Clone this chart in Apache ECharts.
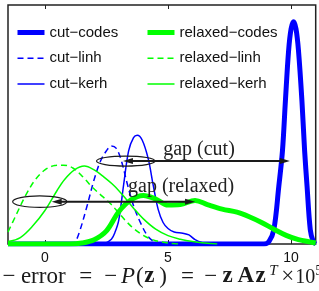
<!DOCTYPE html>
<html>
<head>
<meta charset="utf-8">
<script src="https://cdn.jsdelivr.net/npm/echarts@6/dist/echarts.min.js"></script>
<style>
html, body { margin: 0; padding: 0; background: #fff; }
#chart { width: 319px; height: 291px; }
</style>
</head>
<body>
<div id="chart"></div>
<script>
// densities (y scaled so the top of the box is 1)
const cutCodesX = [-1.5, 8.9, 9.1, 9.3, 9.5, 9.65, 9.77, 9.9, 10.0, 10.1, 10.2, 10.3, 10.44, 10.55, 10.65, 10.78, 10.9, 11]
const cutCodesY = [0, 0, 0.01, 0.06, 0.24, 0.39, 0.6, 0.81, 0.9, 0.93, 0.9, 0.81, 0.6, 0.39, 0.24, 0.06, 0.01, 0]

const cutLinhX = [1.0, 1.2, 1.4, 1.7, 2.0, 2.25, 2.5, 2.7, 2.9, 3.1, 3.35, 3.6, 3.9, 4.2, 4.5, 4.8]
const cutLinhY = [0, 0.005, 0.05, 0.155, 0.27, 0.345, 0.39, 0.41, 0.4, 0.35, 0.25, 0.16, 0.085, 0.03, 0.006, 0]

const cutKerhX = [2.4, 2.7, 2.85, 3.0, 3.2, 3.4, 3.6, 3.75, 3.95, 4.2, 4.4, 4.6, 4.8, 5.0, 5.25, 5.6, 5.85, 6.1, 6.4, 6.7]
const cutKerhY = [0, 0.02, 0.05, 0.1, 0.25, 0.39, 0.445, 0.455, 0.435, 0.355, 0.245, 0.145, 0.09, 0.065, 0.05, 0.045, 0.038, 0.018, 0.005, 0]

const relaxedCodesX = [-1.5, 1.0, 1.5, 2.0, 2.5, 3.0, 3.5, 4.0, 4.5, 5.0, 5.5, 6.1, 6.6, 7.2, 7.8, 8.3, 8.8, 9.3, 9.8, 10.3, 10.8, 11]
const relaxedCodesY = [0, 0, 0.004, 0.018, 0.055, 0.135, 0.185, 0.203, 0.188, 0.163, 0.165, 0.182, 0.165, 0.146, 0.133, 0.114, 0.09, 0.062, 0.036, 0.018, 0.008, 0.004]

const relaxedLinhX = [-1.5, -1.2, -0.8, -0.4, 0, 0.4, 0.75, 1.15, 1.55, 1.95, 2.35, 2.7, 3.0, 3.3, 3.6, 3.9, 4.2, 4.5, 5.0, 5.5]
const relaxedLinhY = [0.05, 0.115, 0.2, 0.268, 0.31, 0.328, 0.33, 0.317, 0.28, 0.235, 0.198, 0.165, 0.13, 0.095, 0.065, 0.042, 0.025, 0.014, 0.004, 0]

const relaxedKerhX = [-1.5, -1.0, -0.5, 0, 0.5, 0.8, 1.2, 1.6, 2.0, 2.4, 2.8, 3.2, 3.6, 4.0, 4.5, 5.0, 5.5, 6.0, 6.5, 7.0]
const relaxedKerhY = [0.01, 0.027, 0.075, 0.14, 0.225, 0.27, 0.31, 0.326, 0.31, 0.28, 0.245, 0.2, 0.15, 0.105, 0.062, 0.035, 0.02, 0.01, 0.004, 0]

const xTicks = [0, 5, 10]

// gap arrows, the rings at their left ends and their labels
const gapLabels = ['gap (cut)', 'gap (relaxed)']
const gapFrom = [3.17, 0.275]
const gapTo = [9.95, 6.1]
const gapY = [0.347, 0.177]
const ringX = [3.285, -0.21]
const ringY = [0.347, 0.177]
const ringW = [1.19, 1.1]
const ringH = [0.021, 0.024]
const labelX = [6.26, 5.53]
const labelY = [0.395, 0.238]

const BLUE = '#0000ff'
const GREEN = '#00ff00'
const INK = '#1a1a1a'

function pairs (xs, ys) {
  return xs.map((x, i) => [x, ys[i]])
}

function curve (name, xs, ys, color, width, dashed) {
  return {
    name,
    type: 'line',
    data: pairs(xs, ys),
    symbol: 'none',
    smooth: 0.35,
    lineStyle: { color, width, type: dashed ? [6, 4] : 'solid' },
    itemStyle: { color },
    emphasis: { disabled: true },
    animation: false
  }
}

function renderGap (params, api) {
  const i = params.dataIndex
  const a = api.coord([api.value(0), api.value(2)])
  const b = api.coord([api.value(1), api.value(2)])
  const c = api.coord([api.value(3), api.value(4)])
  const r = api.size([api.value(5), api.value(6)])
  const t = api.coord([api.value(7), api.value(8)])
  const head = 10
  const half = 3
  return {
    type: 'group',
    children: [
      { type: 'ellipse', shape: { cx: c[0], cy: c[1], rx: r[0], ry: r[1] }, style: { fill: 'none', stroke: INK, lineWidth: 1.2 } },
      { type: 'line', shape: { x1: a[0] + head - 1, y1: a[1], x2: b[0] - head + 1, y2: b[1] }, style: { stroke: INK, lineWidth: 2 } },
      { type: 'polygon', shape: { points: [[a[0], a[1]], [a[0] + head, a[1] - half], [a[0] + head, a[1] + half]] }, style: { fill: INK } },
      { type: 'polygon', shape: { points: [[b[0], b[1]], [b[0] - head, b[1] - half], [b[0] - head, b[1] + half]] }, style: { fill: INK } },
      { type: 'text', x: t[0], y: t[1], style: { text: gapLabels[i], font: '20px "Liberation Serif"', fill: '#222', align: 'center', verticalAlign: 'middle' } }
    ]
  }
}

const gapData = gapLabels.map((_, i) => [gapFrom[i], gapTo[i], gapY[i], ringX[i], ringY[i], ringW[i], ringH[i], labelX[i], labelY[i]])

// x-axis title: tokens are left aligned, width = distance to the next glyph
const serif = 'Liberation Serif'
function tok (width, extra) {
  return Object.assign({ fontFamily: serif, fontSize: 23, lineHeight: 24, verticalAlign: 'bottom', align: 'left', width, color: INK }, extra || {})
}
function sup (width, extra) {
  return Object.assign({ fontFamily: serif, fontSize: 15, lineHeight: 16, verticalAlign: 'top', align: 'left', width, color: INK }, extra || {})
}
const rich = {
  m0: tok(18.4),
  er: tok(58.3),
  q1: tok(25),
  m1: tok(16.7),
  p: tok(15, { fontStyle: 'italic' }),
  l: tok(8.3),
  z: tok(15, { fontWeight: 'bold' }),
  r: tok(21.7),
  q2: tok(23.3),
  m2: tok(18.3),
  z1: tok(15, { fontWeight: 'bold' }),
  A: tok(18, { fontWeight: 'bold' }),
  z2: tok(13.7, { fontWeight: 'bold' }),
  T: sup(12, { fontStyle: 'italic' }),
  x: tok(14),
  ten: tok(20, { fontSize: 20 }),
  five: sup(6)
}
const axisTitle = '{m0|−}{er|error}{q1|=}{m1|−}{p|P}{l|(}{z|z}{r|)}{q2|=}{m2|−}{z1|z}{A|A}{z2|z}{T|T}{x|×}{ten|10}{five|5}'

const legendText = { fontFamily: 'Liberation Sans', fontSize: 15, color: '#111', lineHeight: 14 }
function legendBox (left, names) {
  return {
    orient: 'vertical',
    left,
    top: 25,
    padding: 0,
    itemWidth: 27,
    itemHeight: 14,
    itemGap: 10.75,
    selectedMode: false,
    textStyle: legendText,
    data: names.map((n, i) => ({ name: n, itemStyle: { opacity: 0 }, lineStyle: { width: i === 0 ? 5 : 1.5 } }))
  }
}

const chart = echarts.init(document.getElementById('chart'), null, { renderer: 'canvas' })
chart.setOption({
  animation: false,
  backgroundColor: '#fff',
  grid: { left: 8, right: 3.3, top: 5, bottom: 47, outerBoundsMode: 'none', containLabel: false, show: true, borderColor: '#222', borderWidth: 1.5, backgroundColor: 'transparent' },
  legend: [
    legendBox(15, ['cut−codes', 'cut−linh', 'cut−kerh']),
    legendBox(145, ['relaxed−codes', 'relaxed−linh', 'relaxed−kerh'])
  ],
  xAxis: [{
    type: 'value',
    min: -1.5,
    max: 11,
    position: 'bottom',
    axisLine: { show: false },
    splitLine: { show: false },
    axisTick: { show: true, inside: true, length: 4, customValues: xTicks, lineStyle: { color: '#222' } },
    axisLabel: { customValues: xTicks, margin: 7, fontFamily: 'Liberation Sans', fontSize: 14, color: '#111' },
    name: axisTitle,
    nameLocation: 'middle',
    nameGap: 20,
    nameMoveOverlap: false,
    nameTextStyle: { rich }
  }, {
    type: 'value',
    min: -1.5,
    max: 11,
    position: 'top',
    axisLine: { show: false },
    splitLine: { show: false },
    axisTick: { show: true, inside: true, length: 4, customValues: xTicks, lineStyle: { color: '#222' } },
    axisLabel: { show: false }
  }],
  yAxis: { type: 'value', min: 0, max: 1, show: false },
  series: [
    curve('cut−codes', cutCodesX, cutCodesY, BLUE, 5, false),
    curve('cut−linh', cutLinhX, cutLinhY, BLUE, 1.5, true),
    curve('cut−kerh', cutKerhX, cutKerhY, BLUE, 1.5, false),
    curve('relaxed−codes', relaxedCodesX, relaxedCodesY, GREEN, 5, false),
    curve('relaxed−linh', relaxedLinhX, relaxedLinhY, GREEN, 1.5, true),
    curve('relaxed−kerh', relaxedKerhX, relaxedKerhY, GREEN, 1.5, false),
    {
      type: 'custom',
      renderItem: renderGap,
      data: gapData,
      encode: { x: [0, 1], y: 2 },
      silent: true,
      clip: false,
      z: 5,
      animation: false
    }
  ]
})

window.addEventListener('resize', () => chart.resize())
</script>
</body>
</html>
